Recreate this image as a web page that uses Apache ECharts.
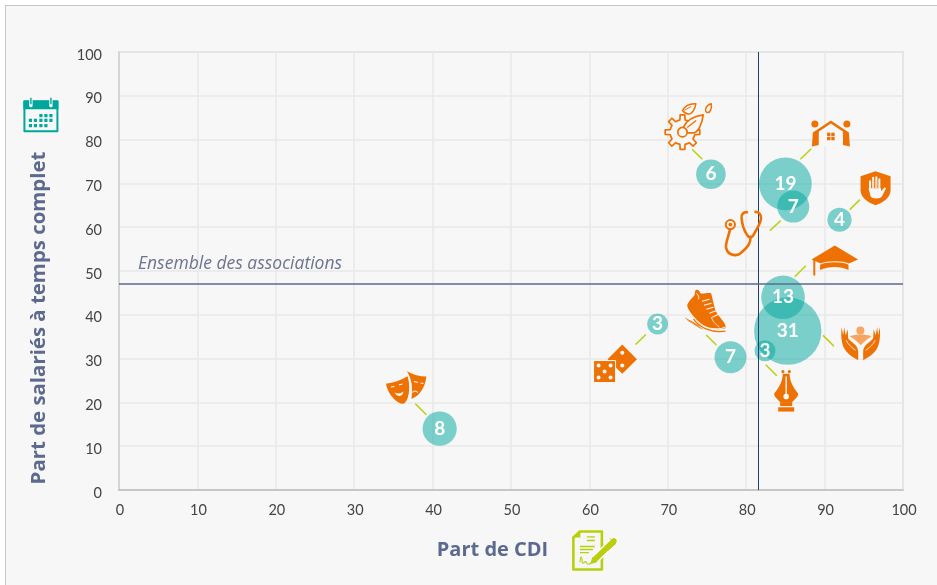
<!DOCTYPE html>
<html>
<head>
<meta charset="utf-8">
<title>Part de CDI et temps complet</title>
<script src="https://cdn.jsdelivr.net/npm/echarts@6/dist/echarts.min.js"></script>
<style>
  html, body { margin: 0; padding: 0; background: #fff; overflow: hidden; }
  #frame { position: absolute; left: 5px; top: 5px; right: 0; bottom: 0; background: #f7f7f7; border-left: 1px solid #c8c8c8; border-top: 1px solid #c8c8c8; }
  #chart { position: absolute; left: 0; top: 0; width: 937px; height: 585px; }
</style>
</head>
<body>
<div id="frame"></div>
<div id="chart"></div>
<script>
// valeurs
const partCdi = [75.5, 85, 86, 91.9, 84.7, 85.3, 82.4, 78, 68.7, 40.9];
const partTempsComplet = [72.1, 69.9, 64.7, 61.7, 44, 36.3, 31.8, 30.3, 37.9, 14];
const effectifs = [6, 19, 7, 4, 13, 31, 3, 7, 3, 8];
const ensembleCdi = 81.6;
const ensembleTempsComplet = 47.1;

// petits traits entre bulle et pictogramme
const leaderFrom = [[73.1, 77.8], [86.9, 75.5], [83, 59.2], [93.2, 64], [86.2, 48.7], [89.8, 35.3], [82.5, 28.6], [74.9, 35.4], [67.2, 35.5], [37.8, 19.7]];
const leaderTo = [[74.4, 75.5], [88.3, 77.9], [84.4, 61.5], [94.5, 66.3], [87.6, 51.2], [91.2, 32.8], [83.9, 26.1], [76.2, 33.1], [65.9, 33.2], [39.2, 17.2]];

// pictogrammes
const iconKeys = ['gear', 'house', 'steth', 'shield', 'cap', 'hands', 'pen', 'shoe', 'dice', 'masks', 'calendar', 'contract'];
const iconX = [72.6, 90.8, 79.6, 96.5, 91.3, 94.6, 85.1, 74.8, 63.3, 36.6, -9.96, 60.7];
const iconY = [83, 81.4, 58.7, 68.9, 52.4, 33.5, 22.7, 40.6, 28.8, 23.4, 85.7, -13.8];

const ORANGE = '#ee7203';
const LIGHT = '#f8a562';
const BG = '#f7f7f7';
const TEAL = '#00a79d';
const LIME = '#b9cf0a';
const NAVY = '#5c6a8f';

const f = (d, fill) => ({ d, fill: fill || ORANGE });
const s = (d, stroke, lw) => ({ d, stroke: stroke || ORANGE, lw: lw || 1.5 });
const circle = (cx, cy, r) => `M${cx - r} ${cy}A${r} ${r} 0 1 1 ${cx + r} ${cy}A${r} ${r} 0 1 1 ${cx - r} ${cy}Z`;
const rect = (x, y, w, h) => `M${x} ${y}L${x + w} ${y}L${x + w} ${y + h}L${x} ${y + h}Z`;

const gearPath = (cx, cy, rOut, rIn, n) => {
  let d = '';
  const step = Math.PI * 2 / n;
  for (let i = 0; i < n; i++) {
    const a = i * step;
    const pts = [[rIn, a - step * 0.5], [rIn, a - step * 0.27], [rOut, a - step * 0.17], [rOut, a + step * 0.17], [rIn, a + step * 0.27]];
    pts.forEach((p, j) => {
      d += (i === 0 && j === 0 ? 'M' : 'L') + (cx + p[0] * Math.cos(p[1])).toFixed(1) + ' ' + (cy + p[0] * Math.sin(p[1])).toFixed(1);
    });
  }
  return d + 'Z';
};

const calendarDots = [];
[[1, [0, 5, 10]], [5.7, [-10.5, -5.5, 0, 5, 10]], [11, [-10.5, -5.5, 0, 5]]].forEach(row => {
  row[1].forEach(x => calendarDots.push(f(rect(x - 1.6, row[0] - 1.6, 3.2, 3.2), TEAL)));
});

const iconParts = {
  gear: [
    { d: gearPath(-5.7, 5.7, 17.5, 12.5, 8), stroke: ORANGE, lw: 1.7, fill: BG },
    { d: 'M-5 1C-2 -6 5 -10 15 -11.5C14 -3 10.5 4.5 6 6.5L-2 6.5Z', stroke: ORANGE, lw: 1.7, fill: BG },
    s('M-1 1L8 -6', ORANGE, 1.4),
    { d: circle(-5.7, 5.7, 4.7), stroke: ORANGE, lw: 1.7, fill: BG },
    s('M-5.7 -16C-3 -21 2 -23 7.7 -22.7C7 -18 4 -12 0 -12.5C-2 -12.5 -4 -14 -5.7 -16Z', ORANGE, 1.5),
    s('M-4 -16L3 -20', ORANGE, 1),
    s('M23 -22.7C24 -19 22 -13 19 -14C16 -15 17 -21 23 -22.7Z', ORANGE, 1.5)
  ],
  house: [
    f(circle(-16, -9.5, 3.5)),
    f(circle(16, -9.5, 3.5)),
    f('M0 -13L18 -1L19 13L12 11.5L12 1L8 -4L0 -9L-8 -4L-12 1L-12 11.5L-19 13L-18 -1Z'),
    f('M-12 -2L0 -9.5L12 -2L12 1L-12 1Z', BG),
    f('M0 -10L9 -3.5L12 1L12 13L-12 13L-12 1L-9 -3.5Z', BG),
    f(rect(-3.8, -0.8, 3.4, 3.4)), f(rect(0.4, -0.8, 3.4, 3.4)),
    f(rect(-3.8, 3.4, 3.4, 3.4)), f(rect(0.4, 3.4, 3.4, 3.4))
  ],
  steth: [
    { d: 'M-13 -3.5C-15 5 -18 11 -17 15C-15 24 -5 23 -2 20C2 16 8 12 7.5 4', stroke: ORANGE, lw: 2.6, lineCap: 'round' },
    { d: 'M4 -20.7C0 -21 -2 -18 -1.5 -15C-1 -8 2 -1 4 2C5.5 5 9 5 10.5 2C13 -3 18 -10 18 -15C18 -18 16 -21 12.5 -21', stroke: ORANGE, lw: 2.6, lineCap: 'round' },
    s(circle(-12.7, -8.3, 4.6), ORANGE, 2),
    f(circle(-12.7, -8.3, 1.9))
  ],
  shield: [
    f('M0 -17L15 -12L15 2C15 10 6 15 0 17C-6 15 -15 10 -15 2L-15 -12Z'),
    { d: 'M-5.5 -7L-5.5 2M-2.4 -10.5L-2.4 1M0.8 -11L0.8 1M3.8 -9L3.8 2', stroke: BG, lw: 2, lineCap: 'round' },
    f('M-7 0L5.5 0L5.5 3L9 -1L10.5 0L6.5 8C4.5 11 -3 11 -5 8Z', BG),
    s('M-2.4 -8L-2.4 1M0.8 -8L0.8 1', LIGHT, 0.5)
  ],
  cap: [
    f('M0 -15L23.3 -1L14 3C8 0 -8 0 -14 3L-23.3 -1Z'),
    f('M-14.7 4.2C-8 1 8 1 13.7 4.2L13.7 9.5C6 5.5 -6 5.5 -14.7 9.5Z'),
    f(rect(-21.5, -1, 2, 16))
  ],
  hands: [
    f(circle(-0.3, -12.7, 4), LIGHT),
    f('M-11 -7C-5 -9.5 5 -9.5 11 -7C6 -4 3 -1 0 2C-3 -1 -6 -4 -11 -7Z', LIGHT),
    f('M-19 -16L-17.5 -8L-16.5 -16L-15 -8L-13 -14L-12.5 -5C-10 -1 -3 1 -2.5 8L-2.5 17C-8 14 -14 10 -17 4C-19 0 -20 -8 -19 -16Z'),
    f('M19 -16L17.5 -8L16.5 -16L15 -8L13 -14L12.5 -5C10 -1 3 1 2.5 8L2.5 17C8 14 14 10 17 4C19 0 20 -8 19 -16Z'),
    s('M-14.5 -3C-12 2 -8 5 -5 7M14.5 -3C12 2 8 5 5 7', BG, 0.8)
  ],
  pen: [
    f(circle(-3.3, -19, 1.6)), f(circle(3.2, -19, 1.6)),
    f('M-3.3 -16.7L3.3 -16.7C4 -8 7 -3 12 3C12 7 8 9 6 11.7L-6 11.7C-8 9 -12 7 -12 3C-7 -3 -4 -8 -3.3 -16.7Z'),
    s('M0 -14L0 4', BG, 1.4),
    f(circle(0, 6, 2.8), BG),
    f(rect(-6, 11.5, 12, 4)),
    f(rect(-8, 16.7, 16, 4.3))
  ],
  shoe: [
    s('M-20 6L-6 14M-18 8L-5 16M-15 8.5L-3 17', ORANGE, 0.8),
    f('M-10 -22C-8 -23 -6 -22 -5 -19C-2 -18 2 -20 5.7 -19C7 -15 8 -8 10 -2C12 3 18 8 20 13L20 16C10 19 -3 15 -8 9C-12 5 -17 0 -18.3 -7C-16 -13 -12 -15 -11 -17Z'),
    s('M-17.5 -3C-12 6 -4 14 4 16C10 17 16 17 19.5 15', BG, 1),
    s('M-3.5 -11L4 -13M-1.5 -7L6 -9M1 -3L8 -5M4 1L10.5 -1.5M7 5L13 2', BG, 1.1),
    s('M-9 -19C-7 -17 -6 -15 -7 -13', BG, 1),
    s('M6 5C7 9 10 12 14 15', BG, 0.8),
    s('M-12 7C-6 15 5 21 20 19', ORANGE, 1.3)
  ],
  dice: [
    f('M7 -19.4L21.7 -4.7L7 10L-7.7 -4.7Z'),
    f(circle(7, -11, 2), BG), f(circle(7, 1.7, 2), BG),
    { d: rect(-21.7, -3.3, 22, 22), fill: ORANGE, stroke: BG, lw: 1 },
    f(circle(-16.7, 1.7, 2), BG), f(circle(-4.7, 1.7, 2), BG),
    f(circle(-10.7, 7.7, 2), BG),
    f(circle(-16.7, 13.7, 2), BG), f(circle(-4.7, 13.7, 2), BG)
  ],
  masks: [
    f('M1 -16.3C7 -13 14 -11 20.3 -11C20 -3 15 8 5.5 11.5C7 0 6 -8 1 -16.3Z'),
    f('M-20 -3.7C-13 -5 -5 -7 1.7 -11.3C5 0 3 13 -2.3 16.3C-8 17 -18 8 -20 -3.7Z'),
    s('M2.3 -11.3C5.5 -2 4.5 8 1 15', BG, 0.9),
    s('M8 -6L12 -5M14.5 -4.5L17.5 -4', BG, 1.2),
    s('M6.5 5C8 3 10 3 12 5', BG, 1.2),
    s('M-15 -0.5L-11.5 -1M-7 -2.5L-3.5 -3.5', BG, 1.2),
    f('M-11.5 5C-8 6.5 -5 6 -2.5 4C-3 9 -8 10.5 -11.5 5Z', BG)
  ],
  calendar: [
    { d: rect(-16.5, -13.5, 33, 30), fill: BG, stroke: TEAL, lw: 2 },
    f(rect(-17.5, -14, 35, 8.5), TEAL),
    { d: 'M-10 -17L-10 -9M10 -17L10 -9', stroke: BG, lw: 3.4, lineCap: 'round' },
    { d: 'M-10 -16.5L-10 -11M10 -16.5L10 -11', stroke: TEAL, lw: 1.4, lineCap: 'round' }
  ].concat(calendarDots),
  contract: [
    s('M-15 -19L7 -19L7 19L-21.5 19L-21.5 -13Z', LIME, 2.6),
    f('M-21.5 -13L-14.5 -13L-14.5 -19Z', LIME),
    s('M-8 -13.6L0 -13.6M-8 -10L0 -10', LIME, 1.4),
    s('M-15 -4L0 -4M-15 -1L-2 -1M-15 2.2L-6 2.2', LIME, 1.4),
    s('M-15 12C-14 4 -13 6 -12.5 12C-11 15 -10 8 -8 13C-7 15 -5 13 -3 12', LIME, 1.1),
    { d: 'M-1 10L19 -9.5', stroke: BG, lw: 8.5 },
    { d: 'M0 9L19 -9.5', stroke: LIME, lw: 5.5, lineCap: 'round' },
    f('M-4.7 13.7L-2.5 6.5L2.5 11.5Z', LIME),
    s('M15 -12L21 -7L13 0', LIME, 1)
  ]
};

const chart = echarts.init(document.getElementById('chart'));

const option = {
  animation: false,
  grid: { left: 119, right: 34, top: 52, bottom: 95, show: true, borderColor: '#cfcfcf', borderWidth: 1.5, backgroundColor: 'transparent' },
  xAxis: {
    type: 'value', min: 0, max: 100, interval: 10,
    axisLine: { show: true, lineStyle: { color: '#bdbdbd', width: 1.5 } },
    axisTick: { show: false },
    splitLine: { show: true, lineStyle: { color: '#e9e9e9', width: 1.5 } },
    axisLabel: { color: '#444', fontFamily: 'Lato', fontSize: 14.5, margin: 13, padding: [0, 0, 0, 2] }
  },
  yAxis: {
    type: 'value', min: 0, max: 100, interval: 10,
    axisLine: { show: true, lineStyle: { color: '#cfcfcf', width: 1.5 } },
    axisTick: { show: false },
    splitLine: { show: true, lineStyle: { color: '#e9e9e9', width: 1.5 } },
    axisLabel: { color: '#444', fontFamily: 'Lato', fontSize: 14.5, margin: 17, verticalAlign: 'top', lineHeight: 6 }
  },
  graphic: [
    { type: 'text', x: 138, y: 264, z: 10, style: { text: 'Ensemble des associations', fill: '#6d7390', font: 'italic 17.5px "Open Sans"', verticalAlign: 'middle' } },
    { type: 'text', x: 39, y: 318, rotation: Math.PI / 2, z: 10, style: { text: 'Part de salariés à temps complet', fill: NAVY, font: 'bold 20.4px "Open Sans"', align: 'center', verticalAlign: 'middle' } },
    { type: 'text', x: 492.5, y: 550, z: 10, style: { text: 'Part de CDI', fill: NAVY, font: 'bold 20px "Open Sans"', align: 'center', verticalAlign: 'middle' } }
  ],
  series: [
    {
      type: 'scatter',
      data: partCdi.map((x, i) => [x, partTempsComplet[i], effectifs[i]]),
      symbolSize: val => 2 * 6.05 * Math.sqrt(val[2]),
      itemStyle: { color: 'rgba(0,167,157,0.5)', opacity: 1 },
      label: {
        show: true, position: 'inside', color: '#fff', fontFamily: 'Lato', fontWeight: 'bold', fontSize: 19,
        formatter: p => p.value[2]
      },
      silent: true,
      z: 3,
      markLine: {
        silent: true, symbol: 'none', animation: false, label: { show: false },
        data: [
          { xAxis: ensembleCdi, lineStyle: { color: '#1f3f6e', width: 1, type: 'solid' } },
          { yAxis: ensembleTempsComplet, lineStyle: { color: '#5c6a8f', width: 1.5, type: 'solid' } }
        ]
      }
    },
    {
      type: 'lines',
      coordinateSystem: 'cartesian2d',
      silent: true,
      z: 4,
      lineStyle: { color: LIME, width: 1.5, opacity: 1 },
      data: leaderFrom.map((from, i) => ({ coords: [from, leaderTo[i]] }))
    },
    {
      type: 'custom',
      coordinateSystem: 'cartesian2d',
      silent: true,
      clip: false,
      z: 5,
      encode: { x: 0, y: 1 },
      data: iconX.map((x, i) => [x, iconY[i]]),
      renderItem: (params, api) => {
        const p = api.coord([api.value(0), api.value(1)]);
        return {
          type: 'group',
          x: p[0],
          y: p[1],
          children: iconParts[iconKeys[params.dataIndex]].map(part => ({
            type: 'path',
            shape: { pathData: part.d },
            style: {
              fill: part.fill || 'none',
              stroke: part.stroke || null,
              lineWidth: part.lw || 0,
              lineCap: part.lineCap || 'butt',
              lineJoin: 'round'
            }
          }))
        };
      }
    }
  ]
};

chart.setOption(option);
</script>
</body>
</html>
